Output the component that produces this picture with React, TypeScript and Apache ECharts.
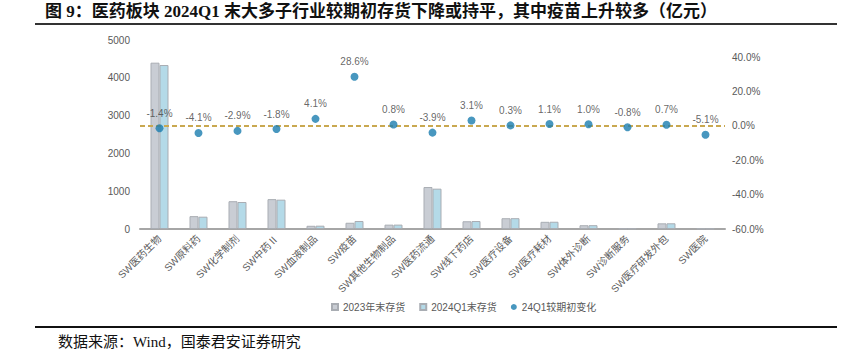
import React, { useEffect, useRef } from "react";
import * as echarts from "echarts";

const categories = [
  "SW医药生物", "SW原料药", "SW化学制剂", "SW中药Ⅱ", "SW血液制品", "SW疫苗",
  "SW其他生物制品", "SW医药流通", "SW线下药店", "SW医疗设备", "SW医疗耗材",
  "SW体外诊断", "SW诊断服务", "SW医疗研发外包", "SW医院",
];
const inv2023 = [4400, 340, 735, 790, 85, 165, 115, 1110, 205, 285, 190, 100, 14, 150, 12];
const inv2024Q1 = [4338, 326, 714, 776, 88, 212, 116, 1067, 211, 286, 192, 101, 14, 151, 11];
const change = [-1.4, -4.1, -2.9, -1.8, 4.1, 28.6, 0.8, -3.9, 3.1, 0.3, 1.1, 1.0, -0.8, 0.7, -5.1];
const seriesNames = ["2023年末存货", "2024Q1末存货", "24Q1较期初变化"];

const title = "图 9：医药板块 2024Q1 末大多子行业较期初存货下降或持平，其中疫苗上升较多（亿元）";
const source = "数据来源：Wind，国泰君安证券研究";

export default function App() {
  const ref = useRef<HTMLDivElement>(null);
  useEffect(() => {
    const chart = echarts.init(ref.current!, null, { renderer: "svg" });
    const axisText = { color: "#595959", fontSize: 10, fontFamily: "Arial, Liberation Sans, Noto Sans CJK SC" };
    chart.setOption({
      animation: false,
      backgroundColor: "#fff",
      grid: { left: 140, right: 134, top: 40, bottom: 125, containLabel: false },
      legend: {
        left: 326,
        top: 297,
        itemWidth: 6,
        itemHeight: 6,
        itemGap: 14,
        textStyle: { ...axisText, fontSize: 10 },
        data: [
          { name: seriesNames[0], icon: "rect" },
          { name: seriesNames[1], icon: "rect" },
          { name: seriesNames[2], icon: "circle" },
        ],
      },
      xAxis: {
        type: "category",
        data: categories,
        axisLine: { lineStyle: { color: "#A6A6A6", width: 2 } },
        axisTick: { show: false },
        axisLabel: { ...axisText, rotate: 45, interval: 0, margin: 8 },
      },
      yAxis: [
        {
          type: "value",
          min: 0,
          max: 5000,
          interval: 1000,
          axisLine: { show: false },
          axisTick: { show: false },
          splitLine: { show: false },
          axisLabel: { ...axisText, margin: 10, formatter: (v: number) => String(v) },
        },
        {
          type: "value",
          min: -60,
          max: 50,
          interval: 20,
          axisLine: { show: false },
          axisTick: { show: false },
          splitLine: { show: false },
          axisLabel: {
            ...axisText,
            margin: 7,
            formatter: (v: number) => (v > 45 ? "" : v.toFixed(1) + "%"),
          },
        },
      ],
      series: [
        {
          name: seriesNames[0],
          type: "bar",
          data: inv2023,
          barWidth: 9,
          barGap: "0%",
          itemStyle: { color: "#C9CDD4", borderColor: "#A9ADB3", borderWidth: 1 },
        },
        {
          name: seriesNames[1],
          type: "bar",
          data: inv2024Q1,
          barWidth: 9,
          itemStyle: { color: "#B4DAE8", borderColor: "#A9ADB3", borderWidth: 1 },
        },
        {
          name: seriesNames[2],
          type: "scatter",
          yAxisIndex: 1,
          data: change,
          symbolSize: 8,
          itemStyle: { color: "#1A7DAF" },
          label: {
            show: true,
            position: "top",
            distance: 6,
            color: "#404040",
            fontSize: 10,
            fontFamily: "Arial, Liberation Sans",
            formatter: (p: any) => p.value.toFixed(1) + "%",
          },
          markLine: {
            silent: true,
            symbol: "none",
            label: { show: false },
            lineStyle: { color: "#C9A850", type: [5, 3], width: 2 },
            data: [{ yAxis: 0 }],
          },
          z: 5,
        },
      ],
      graphic: [
        {
          type: "text",
          left: 45,
          top: 3,
          style: {
            text: title,
            fontSize: 17,
            fontWeight: "bold",
            fill: "#111",
            fontFamily: "Liberation Serif, Noto Sans CJK SC",
          },
        },
        {
          type: "line",
          shape: { x1: 35, y1: 24, x2: 837, y2: 24 },
          style: { stroke: "#333", lineWidth: 2 },
        },
        {
          type: "line",
          shape: { x1: 35, y1: 327, x2: 837, y2: 327 },
          style: { stroke: "#111", lineWidth: 2 },
        },
        {
          type: "text",
          left: 58,
          top: 334,
          style: {
            text: source,
            fontSize: 15,
            fill: "#111",
            fontFamily: "Liberation Serif, Noto Sans CJK SC",
          },
        },
      ],
    });
    return () => chart.dispose();
  }, []);
  return <div ref={ref} style={{ position: "fixed", left: 0, top: 0, width: 859, height: 354 }} />;
}
